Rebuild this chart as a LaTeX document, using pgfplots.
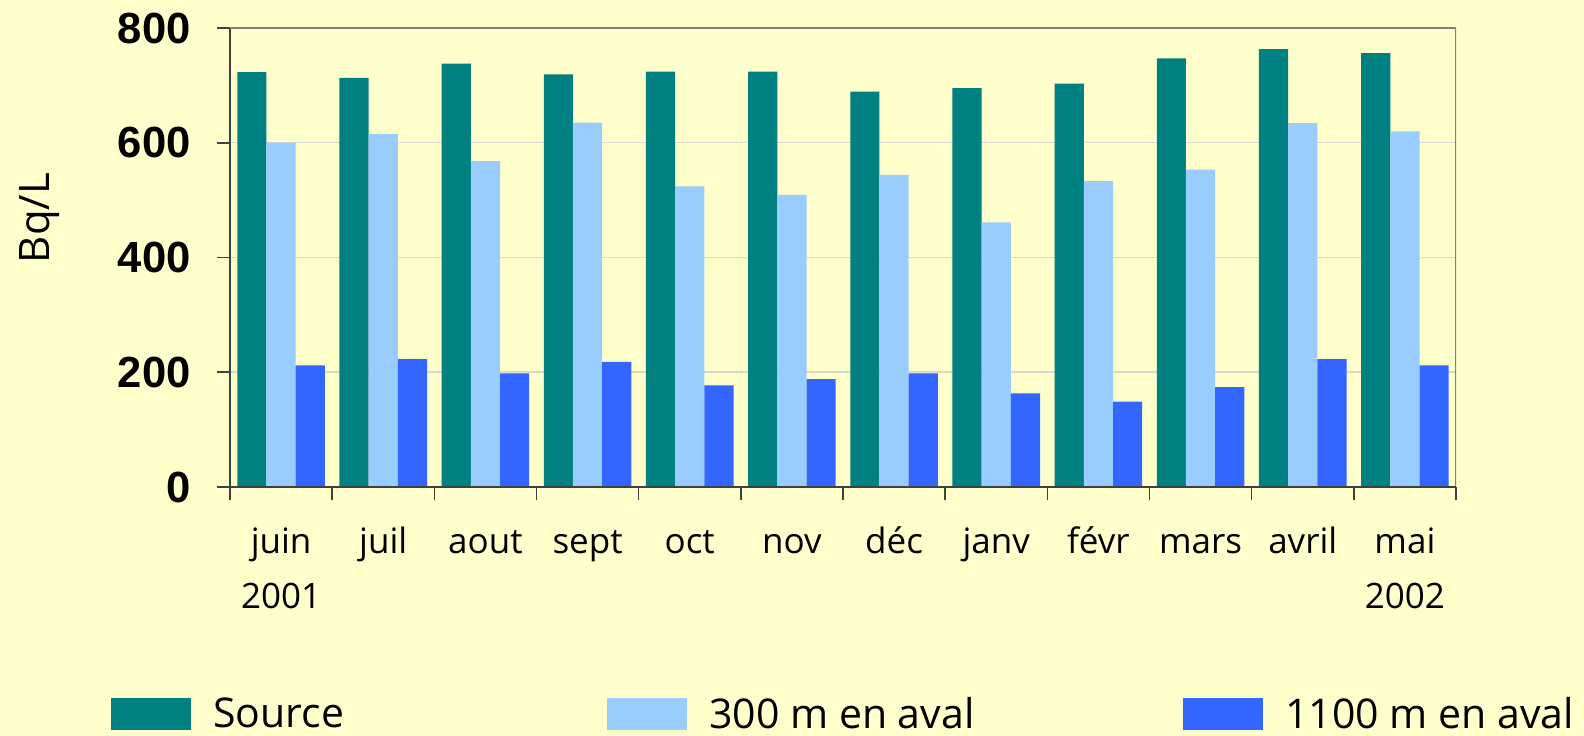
\documentclass[border=0pt]{standalone}
\usepackage{pgfplots}
\pgfplotsset{compat=1.18}
\usepackage{fontspec}
\setmainfont{Open Sans}
\newfontfamily\tickfont{Liberation Sans}
\definecolor{bgy}{HTML}{FFFFCC}
\definecolor{teal1}{HTML}{008080}
\definecolor{lblue}{HTML}{99CCFF}
\definecolor{blue1}{HTML}{3366FF}
\definecolor{gridc}{RGB}{217,217,205}
\definecolor{bordc}{HTML}{808080}
\definecolor{axc}{HTML}{404040}
\pgfplotsset{sqlegend/.style={legend image code/.code={\fill[##1,draw=none] (0bp,-8bp) rectangle (40bp,8bp);}}}
\begin{document}
\begin{tikzpicture}
\path[use as bounding box, fill=bgy] (0,0) rectangle (792bp,368bp);
\begin{axis}[
 at={(115bp,124.5bp)}, anchor=south west,
 scale only axis, width=613bp, height=229.5bp,
 xmin=-0.5, xmax=11.5, ymin=0, ymax=800,
 ybar=0pt, bar width=14.6bp,
 axis lines=left, axis line style={draw=axc, line width=0.8bp, -},
 ytick={0,200,...,800},
 ymajorgrids, major grid style={draw=gridc, line width=0.75bp},
 xtick={-0.5,0.5,...,11.5}, xticklabels={},
 extra x ticks={0,1,...,11},
 extra x tick labels={{juin\\2001},{juil\\\phantom{0}},{aout\\\phantom{0}},{sept\\\phantom{0}},{oct\\\phantom{0}},{nov\\\phantom{0}},{déc\\\phantom{0}},{janv\\\phantom{0}},{févr\\\phantom{0}},{mars\\\phantom{0}},{avril\\\phantom{0}},{mai\\2002}},
 extra x tick style={major tick length=0pt, xticklabel style={anchor=base, align=center, yshift=-60.5bp, font=\fontsize{17.5bp}{27.5bp}\selectfont}},
 tick align=outside,
 tick style={draw=axc, line width=0.8bp},
 major tick length=6.5bp,
 yticklabel style={font=\tickfont\bfseries\fontsize{21.8bp}{26bp}\selectfont, anchor=east, inner sep=0pt, xshift=-13bp},
 /pgf/number format/assume math mode=true,
 ylabel={Bq/L},
 ylabel style={at={(axis description cs:-0.155,0.586)}, anchor=center, font=\fontsize{21bp}{25bp}\selectfont},
 legend columns=3,
 legend style={at={(axis description cs:-0.0971,-0.4946)}, anchor=west, draw=none, fill=none, inner sep=0pt, column sep=0pt, font=\fontsize{20.5bp}{24bp}\selectfont, nodes={inner sep=0pt}},
]
\addplot[fill=teal1, draw=none, sqlegend] coordinates {(0,723) (1,713) (2,738) (3,719) (4,724) (5,724) (6,689) (7,695) (8,703) (9,747) (10,763) (11,756)};
\addlegendentry{\makebox[208bp][l]{\hspace{11bp}Source}}
\addplot[fill=lblue, draw=none, sqlegend] coordinates {(0,600) (1,615) (2,568) (3,635) (4,524) (5,509) (6,544) (7,461) (8,533) (9,553) (10,634) (11,620)};
\addlegendentry{\makebox[248bp][l]{\hspace{11bp}300 m en aval}}
\addplot[fill=blue1, draw=none, sqlegend] coordinates {(0,212) (1,223) (2,198) (3,218) (4,177) (5,188) (6,198) (7,163) (8,149) (9,174) (10,223) (11,212)};
\addlegendentry{\hspace{11bp}1100 m en aval}
\draw[bordc, line width=1bp] (rel axis cs:0,1) -- (rel axis cs:1,1) -- (rel axis cs:1,0);
\draw[axc, line width=0.8bp] (rel axis cs:0,0) -- (rel axis cs:1,0);
\end{axis}
\end{tikzpicture}
\end{document}
